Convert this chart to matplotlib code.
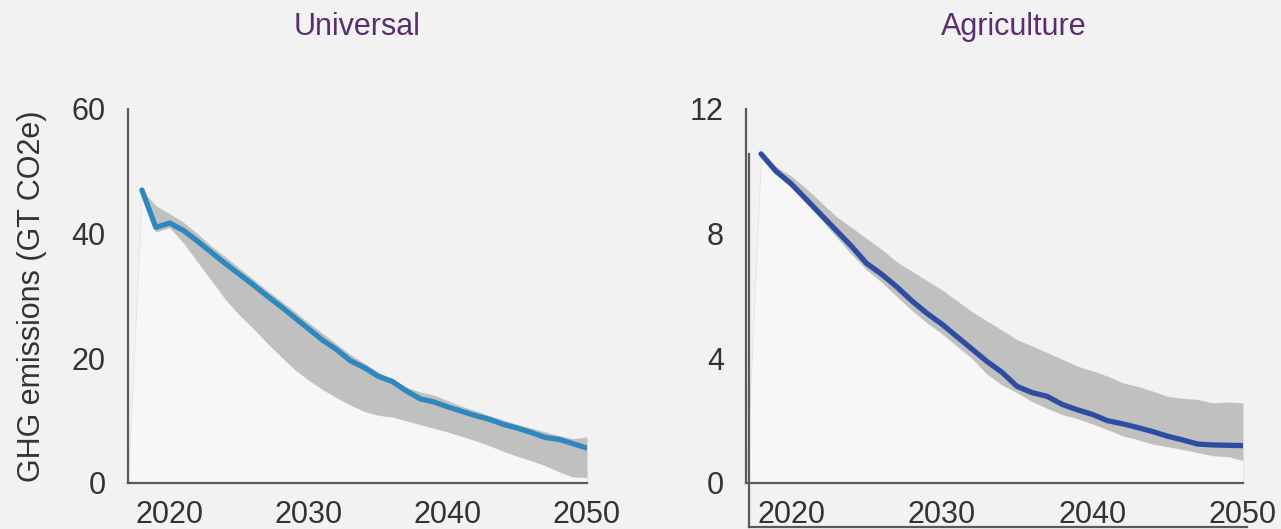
import matplotlib.pyplot as plt
import numpy as np

plt.rcParams['font.family'] = ['Liberation Sans', 'DejaVu Sans']

years = np.arange(2018, 2051)

# Universal (GT CO2e)
uni_line = [47.0, 41.0, 41.7, 40.5, 38.8, 37.0, 35.2, 33.5, 31.8, 30.0, 28.3,
            26.5, 24.7, 22.9, 21.4, 19.6, 18.5, 17.1, 16.3, 14.8, 13.5, 13.0,
            12.2, 11.5, 10.8, 10.2, 9.4, 8.8, 8.1, 7.3, 7.0, 6.3, 5.6]
uni_upper = [47.0, 44.5, 43.2, 41.8, 40.0, 38.0, 36.3, 34.5, 32.7, 30.9, 29.2,
             27.5, 25.7, 24.0, 22.3, 20.6, 19.2, 17.8, 16.6, 15.4, 14.6, 14.1,
             13.2, 12.3, 11.6, 10.8, 10.1, 9.4, 8.8, 8.2, 7.6, 7.1, 7.4]
uni_lower = [47.0, 40.3, 41.0, 38.5, 35.5, 32.5, 29.5, 27.0, 24.8, 22.5, 20.3,
             18.2, 16.5, 15.0, 13.7, 12.5, 11.5, 10.9, 10.6, 10.0, 9.4, 8.8,
             8.2, 7.5, 6.8, 6.0, 5.1, 4.3, 3.6, 2.8, 1.8, 1.0, 0.9]

# Agriculture (GT CO2e)
agr_line = [10.56, 10.0, 9.6, 9.1, 8.6, 8.1, 7.6, 7.05, 6.7, 6.3, 5.85, 5.45,
            5.1, 4.7, 4.3, 3.9, 3.55, 3.1, 2.9, 2.78, 2.52, 2.35, 2.2, 2.0,
            1.9, 1.78, 1.65, 1.5, 1.38, 1.25, 1.22, 1.21, 1.2]
agr_upper = [10.56, 10.15, 9.85, 9.45, 9.0, 8.55, 8.2, 7.85, 7.5, 7.1, 6.8,
             6.5, 6.2, 5.85, 5.5, 5.2, 4.9, 4.6, 4.4, 4.18, 3.97, 3.75, 3.6,
             3.43, 3.22, 3.1, 2.95, 2.78, 2.72, 2.68, 2.57, 2.6, 2.57]
agr_lower = [10.56, 9.95, 9.5, 9.0, 8.45, 7.9, 7.35, 6.85, 6.45, 6.0, 5.55,
             5.15, 4.8, 4.4, 4.0, 3.5, 3.15, 2.9, 2.62, 2.4, 2.2, 2.07, 1.9,
             1.72, 1.52, 1.4, 1.25, 1.17, 1.08, 0.98, 0.88, 0.85, 0.73]

xticks = [2020, 2030, 2040, 2050]

BG = '#f2f2f2'
SPINE = '#5a5a5a'
TXT = '#333333'
TITLE = '#5b2c6f'
FS = 22

W, H = 1281, 529
fig = plt.figure(figsize=(W / 100, H / 100), dpi=100)
fig.patch.set_facecolor(BG)


def px_axes(x0, y0, x1, y1):
    return fig.add_axes([x0 / W, 1 - y1 / H, (x1 - x0) / W, (y1 - y0) / H])


def panel(ax, line, upper, lower, color, ymax, yticks):
    ax.set_facecolor('none')
    xmin = 2017
    # light area under the band
    ax.fill_between(np.r_[xmin, years], 0, np.r_[0, lower], color='#f7f7f7',
                    lw=0.6, edgecolor='#e4e4e4', zorder=1)
    ax.fill_between(years, lower, upper, color='#c0c0c0', lw=0, zorder=2)
    ax.plot(years, line, color=color, lw=3.8, solid_capstyle='round',
            solid_joinstyle='round', zorder=3)
    ax.set_xlim(xmin, 2050)
    ax.set_ylim(0, ymax)
    ax.set_xticks(xticks)
    ax.set_yticks(yticks)
    ax.tick_params(length=0, labelsize=FS, colors=TXT)
    ax.tick_params(axis='y', pad=16)
    ax.tick_params(axis='x', pad=12)
    for s in ['top', 'right']:
        ax.spines[s].set_visible(False)
    for s in ['left', 'bottom']:
        ax.spines[s].set_color(SPINE)
        ax.spines[s].set_linewidth(1.6)
        ax.spines[s].set_zorder(4)


ax1 = px_axes(128, 109, 587, 483)
panel(ax1, uni_line, uni_upper, uni_lower, '#2e88bd', 60, [0, 20, 40, 60])
ax1.set_ylabel('GHG emissions (GT CO2e)', fontsize=FS, color=TXT, labelpad=18)

ax2 = px_axes(746, 109, 1243, 483)
panel(ax2, agr_line, agr_upper, agr_lower, '#2f4ca3', 12, [0, 4, 8, 12])

# second, offset frame seen on the agriculture panel
ax3 = px_axes(749, 154, 1247, 527)
ax3.set_facecolor('none')
ax3.set_xticks([])
ax3.set_yticks([])
for s in ['top', 'right']:
    ax3.spines[s].set_visible(False)
for s in ['left', 'bottom']:
    ax3.spines[s].set_color(SPINE)
    ax3.spines[s].set_linewidth(1.6)

fig.text(357.5 / W, 1 - 27 / H, 'Universal', fontsize=FS, color=TITLE,
         ha='center', va='center')
fig.text(1014 / W, 1 - 27 / H, 'Agriculture', fontsize=FS, color=TITLE,
         ha='center', va='center')

fig.savefig('out.png', dpi=100, facecolor=BG)
